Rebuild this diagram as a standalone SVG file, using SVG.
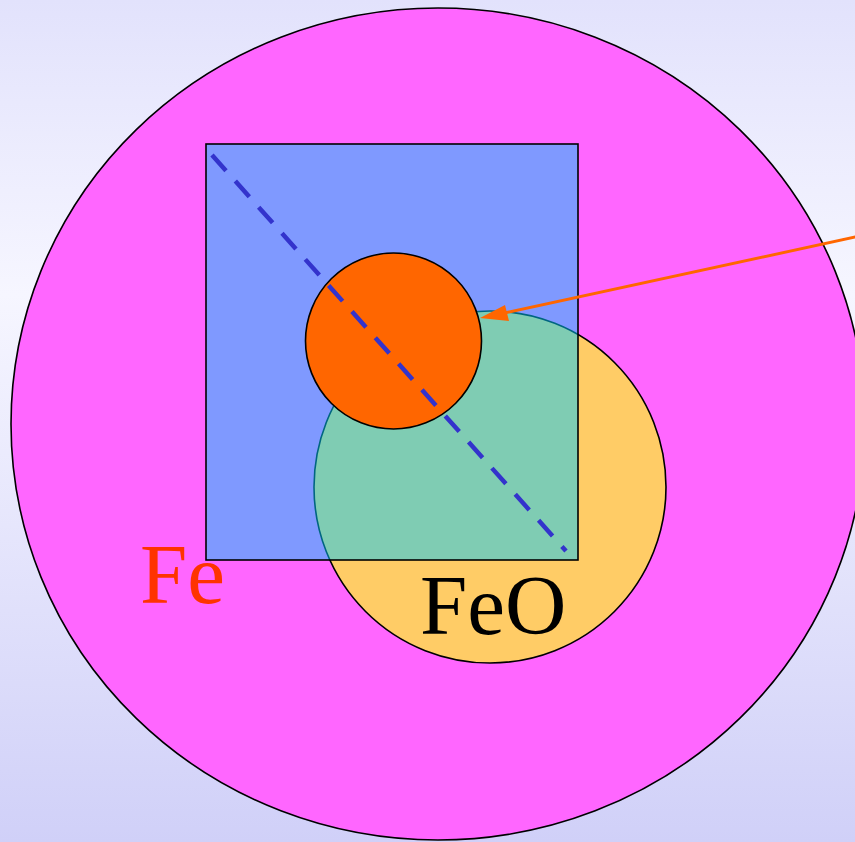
<svg xmlns="http://www.w3.org/2000/svg" width="855" height="842" viewBox="0 0 855 842">
  <defs>
    <linearGradient id="bg" x1="0" y1="0" x2="0" y2="1">
      <stop offset="0" stop-color="#E2E2FC"/>
      <stop offset="0.35" stop-color="#F6F6FF"/>
      <stop offset="1" stop-color="#D0D0F8"/>
    </linearGradient>
  </defs>
  <style>
    .shape { stroke: #000; stroke-width: 1.6; }
    .lbl { font-family: "Liberation Serif", "Times New Roman", serif; font-size: 85px; }
  </style>
  <rect x="0" y="0" width="855" height="842" fill="url(#bg)"/>
  <g id="fe">
    <ellipse class="shape" cx="438" cy="424" rx="427" ry="416" fill="#FF66FF"/>
    <text class="lbl" x="140" y="603" fill="#FF3300">Fe</text>
  </g>
  <g id="feo">
    <circle class="shape" cx="490" cy="487" r="176" fill="#FFCC66"/>
    <text class="lbl" x="420" y="634" fill="#000">FeO</text>
  </g>
  <g id="box">
    <rect class="shape" x="206" y="144" width="372" height="416" fill="#00CCFF" fill-opacity="0.5"/>
  </g>
  <g id="particle">
    <circle class="shape" cx="393.5" cy="341" r="88" fill="#FF6600"/>
  </g>
  <g id="connectors">
    <line x1="212" y1="155" x2="566" y2="551" stroke="#3333CC" stroke-width="4.5" stroke-dasharray="21 14"/>
    <line x1="857" y1="236.6" x2="500" y2="314" stroke="#FF6600" stroke-width="3"/>
    <polygon points="480,318 505,305 509,321" fill="#FF6600"/>
  </g>
</svg>
